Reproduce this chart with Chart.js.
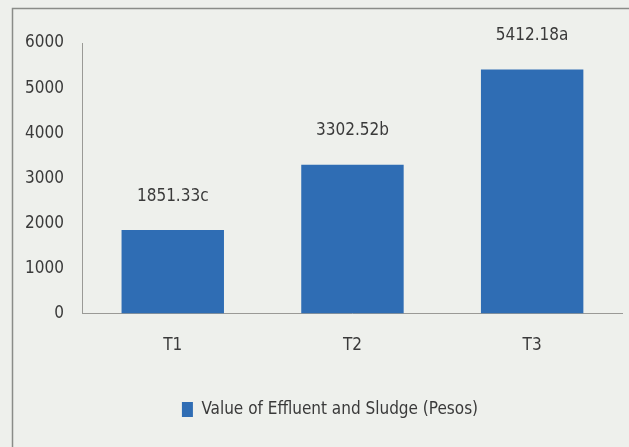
<!DOCTYPE html>
<html>
<head>
<meta charset="utf-8">
<script src="https://cdn.jsdelivr.net/npm/chart.js@4.4.1/dist/chart.umd.min.js"></script>
<style>
  html, body { margin: 0; padding: 0; background: #eef0ec; }
  #wrap { width: 629px; height: 447px; }
</style>
</head>
<body>
<div id="wrap"><canvas id="chart"></canvas></div>
<script>
var categories = ['T1', 'T2', 'T3'];
var values = [1851.33, 3302.52, 5412.18];
var letters = ['c', 'b', 'a'];
var seriesName = 'Value of Effluent and Sludge (Pesos)';

var FONT = "'Liberation Sans Narrow', 'DejaVu Sans Condensed', sans-serif";
var TEXT = '#3a3a3a';

// page background + frame drawn round the chart like the scan
var framePlugin = {
  id: 'frame',
  beforeDraw: function (chart) {
    var ctx = chart.ctx;
    ctx.save();
    ctx.fillStyle = '#eef0ec';
    ctx.fillRect(0, 0, chart.width, chart.height);
    ctx.strokeStyle = '#8a8c88';
    ctx.lineWidth = 1.5;
    ctx.strokeRect(12.5, 8.5, chart.width + 20, chart.height + 20);
    ctx.restore();
  },
  // legend sits a bit right of centre in the original
  afterLayout: function (chart) {
    chart.legend.left += 16;
    chart.legend.right += 16;
  }
};

// value labels above bars
var valueLabels = {
  id: 'valueLabels',
  afterDatasetsDraw: function (chart) {
    var ctx = chart.ctx;
    var meta = chart.getDatasetMeta(0);
    ctx.save();
    ctx.font = '17px ' + FONT;
    ctx.fillStyle = TEXT;
    ctx.textAlign = 'center';
    ctx.textBaseline = 'middle';
    meta.data.forEach(function (bar, i) {
      var txt = values[i].toFixed(2) + letters[i];
      ctx.fillText(txt, bar.x, bar.y - 34);
    });
    ctx.restore();
  }
};

var ctx = document.getElementById('chart').getContext('2d');
var chart = new Chart(ctx, {
  type: 'bar',
  data: {
    labels: categories,
    datasets: [{
      label: seriesName,
      data: values,
      backgroundColor: '#2f6db4',
      categoryPercentage: 1,
      barPercentage: 0.57
    }]
  },
  options: {
    responsive: true,
    maintainAspectRatio: false,
    animation: false,
    layout: { padding: { left: 6, right: 7, top: 43, bottom: 19 } },
    scales: {
      x: {
        grid: { display: false, drawTicks: false },
        border: { color: '#9a9a96', width: 1 },
        ticks: { color: TEXT, font: { family: FONT, size: 17 }, padding: 22 }
      },
      y: {
        min: 0,
        max: 6000,
        grid: { display: false, drawTicks: false },
        border: { color: '#9a9a96', width: 1 },
        ticks: {
          stepSize: 1000,
          color: TEXT,
          font: { family: FONT, size: 17 },
          padding: 19,
          callback: function (v) { return String(v); }
        }
      }
    },
    plugins: {
      legend: {
        position: 'bottom',
        labels: {
          color: TEXT,
          font: { family: FONT, size: 17 },
          boxWidth: 11,
          boxHeight: 15,
          padding: 23
        }
      },
      tooltip: { enabled: false }
    }
  },
  plugins: [framePlugin, valueLabels]
});
</script>
</body>
</html>
